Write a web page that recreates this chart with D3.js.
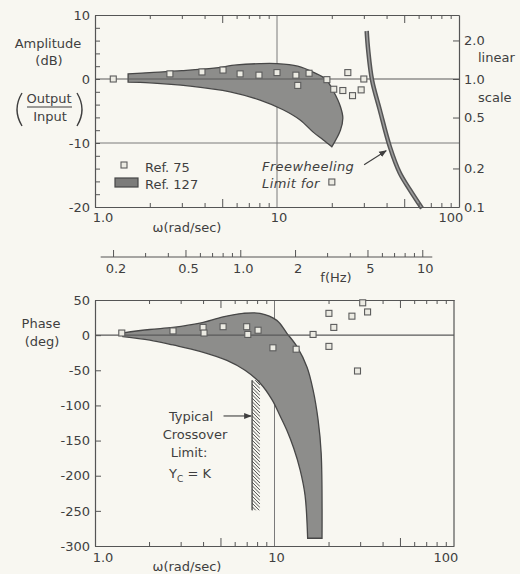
<!DOCTYPE html>
<html>
<head>
<meta charset="utf-8">
<script src="https://cdn.jsdelivr.net/npm/d3@7"></script>
<style>
body { margin: 0; background: #f8f7f1; }
svg { display: block; }
</style>
</head>
<body>
<div class="chart"></div>
<script>
var inkColor = '#3f3f3f',
	frameColor = '#555',
	gridColor = '#7a7a7a',
	bandFill = '#8d8d8b',
	bandStroke = '#474747',
	markerStroke = '#5c5c5c',
	markerFill = '#ecebe3';

// Amplitude plot: Ref. 127 band (omega rad/sec, dB)
var ampBandUpper = [[1.52, 0.8], [2.0, 1.0], [3.0, 1.3], [4.5, 1.7], [6.0, 2.2], [8.0, 2.4], [10, 2.4],
	[13, 2.0], [16, 1.0], [18.5, 0.0], [20.5, -2.0], [22.3, -4.3], [23, -6.1], [22.3, -8.0], [20, -10.6]];
var ampBandLower = [[1.52, -0.5], [2.0, -0.6], [3.33, -1.1], [5.52, -2.0], [8.07, -3.3], [10.8, -4.8],
	[13.4, -6.4], [15.8, -8.3], [17.9, -9.5], [20, -10.6]];
// Ref. 75 points
var ampRef75W = [1.26, 2.58, 3.87, 5.05, 6.27, 7.96, 10.0, 12.7, 13.0, 15.0, 18.8, 20.5, 23.0, 26.0, 29.0, 24.5, 30.0];
var ampRef75Db = [0.0, 0.8, 1.1, 1.4, 0.8, 0.6, 1.0, 0.6, -1.0, 0.9, -0.1, -1.6, -1.8, -2.6, -1.7, 1.0, 0.0];
// freewheeling limit
var freewheel = [[31.1, 7.5], [31.7, 4.5], [33.3, -0.2], [36.7, -4.8], [41.7, -10.6], [47.3, -14.7], [53.7, -17.3], [62.6, -20.2]];

// Phase plot: Ref. 127 band (omega, deg)
var phBandUpper = [[1.41, 3], [2.02, 8], [2.72, 11], [3.84, 17], [5.17, 26], [6.68, 31], [8.3, 31], [10.3, 21],
	[11.7, 3], [13.4, -17], [15.2, -46], [16.4, -78], [17.5, -121], [18.2, -168], [18.4, -289]];
var phBandLower = [[1.43, -2], [2.02, -7], [2.72, -14], [3.84, -23], [5.43, -36], [6.85, -50], [8.3, -68],
	[9.7, -92], [10.7, -114], [11.7, -135], [12.8, -161], [13.9, -192], [14.8, -228], [15.3, -289]];
var phRef75W = [1.41, 2.72, 4.0, 4.05, 5.17, 7.0, 7.1, 8.1, 9.8, 13.2, 16.4, 20.1, 21.4, 20.1, 27, 31, 33, 29];
var phRef75Deg = [3, 6, 11, 3, 12, 12, 1, 7, -18, -20, 1, 31, 11, -16, 27, 46, 33, -51];
var crossoverW = 7.5, crossoverDeg = [-64, -249];

// tick labels
var ampTicks = [-20, -10, 0, 10];
var linearTicks = [2.0, 1.0, 0.5, 0.2, 0.1];
var phTicks = [-300, -250, -200, -150, -100, -50, 0, 50];
var wLabels = ['1.0', '10', '100'];
var fTicks = [0.2, 0.3, 0.4, 0.5, 0.6, 0.7, 0.8, 0.9, 1, 2, 3, 4, 5, 6, 7, 8, 9, 10];
var fLabels = [[0.2, '0.2'], [0.5, '0.5'], [1, '1.0'], [2, '2'], [5, '5'], [10, '10']];

var xTop = d3.scaleLog().domain([1, 100]).range([95, 459]);
var yAmp = d3.scaleLinear().domain([-20, 10]).range([207, 15]);
var xBot = d3.scaleLog().domain([1, 100]).range([95, 454]);
var yPh = d3.scaleLinear().domain([-300, 50]).range([546, 300]);
var xF = d3.scaleLog().domain([1 / (2 * Math.PI), 100 / (2 * Math.PI)]).range([95, 459]);

var svg = d3.select('.chart').append('svg')
	.attr('width', 520)
	.attr('height', 574)
	.attr('font-family', "'DejaVu Sans', sans-serif")
	.attr('font-size', '13px')
	.attr('fill', inkColor);

function styleAxis(g) {
	g.attr('color', frameColor).attr('font-family', "'DejaVu Sans', sans-serif").attr('font-size', 13);
	g.selectAll('.tick text').attr('fill', inkColor);
	g.select('.domain').attr('stroke-width', 1.2);
}

function bigTick(d) {
	var m = Math.round(d / Math.pow(10, Math.floor(Math.log10(d) + 1e-9)));
	return m === 5;
}

function frameAxes(x, y, yDomain) {
	var top = y(yDomain[1]), bottom = y(yDomain[0]);
	var ticks = x.ticks().filter(function(d) { return d > 1 && d < 100 && d !== 10; });
	svg.append('g').attr('transform', 'translate(0,' + top + ')')
		.call(d3.axisTop(x).tickValues(ticks).tickSize(-4).tickSizeOuter(0).tickFormat(''))
		.call(styleAxis)
		.selectAll('.tick line').attr('y2', function(d) { return bigTick(d) ? 8 : 4; });
	svg.append('g').attr('transform', 'translate(0,' + bottom + ')')
		.call(d3.axisBottom(x).tickValues(ticks).tickSize(-4).tickSizeOuter(0).tickFormat(''))
		.call(styleAxis)
		.selectAll('.tick line').attr('y2', function(d) { return bigTick(d) ? -8 : -4; });
}

var line = d3.line().curve(d3.curveCatmullRom.alpha(0.5));

function bandPath(x, y, upper, lower) {
	var up = upper.map(function(d) { return [x(d[0]), y(d[1])]; });
	var low = lower.slice().reverse().map(function(d) { return [x(d[0]), y(d[1])]; });
	return line(up) + line(low).replace(/^M/, 'L') + 'Z';
}

function squares(x, y, ws, vs) {
	svg.append('g').selectAll('rect').data(ws).enter().append('rect')
		.attr('x', function(d) { return x(d) - 3; })
		.attr('y', function(d, i) { return y(vs[i]) - 3; })
		.attr('width', 6).attr('height', 6)
		.attr('fill', markerFill)
		.attr('stroke', markerStroke)
		.attr('stroke-width', 1.1);
}

// ---------- Amplitude plot ----------
svg.append('line')
	.attr('x1', xTop(10)).attr('x2', xTop(10)).attr('y1', yAmp(10)).attr('y2', yAmp(-20))
	.attr('stroke', gridColor).attr('stroke-width', 1);
svg.append('line')
	.attr('x1', xTop(1)).attr('x2', xTop(100)).attr('y1', yAmp(-10)).attr('y2', yAmp(-10))
	.attr('stroke', gridColor).attr('stroke-width', 1);

svg.append('path')
	.attr('d', bandPath(xTop, yAmp, ampBandUpper, ampBandLower))
	.attr('fill', bandFill).attr('stroke', bandStroke).attr('stroke-width', 1.3);

svg.append('line')
	.attr('x1', xTop(1)).attr('x2', xTop(100)).attr('y1', yAmp(0)).attr('y2', yAmp(0))
	.attr('stroke', '#5a5a5a').attr('stroke-width', 1.1);

svg.append('path').datum(freewheel.map(function(d) { return [xTop(d[0]), yAmp(d[1])]; }))
	.attr('d', line).attr('fill', 'none').attr('stroke', '#555').attr('stroke-width', 4.5);
svg.append('path').datum(freewheel.map(function(d) { return [xTop(d[0]), yAmp(d[1])]; }))
	.attr('d', line).attr('fill', 'none').attr('stroke', '#9a9a9a').attr('stroke-width', 1.6);

frameAxes(xTop, yAmp, [-20, 10]);
svg.append('g').attr('transform', 'translate(' + xTop(1) + ',0)')
	.call(d3.axisLeft(yAmp).tickValues(d3.range(-20, 11, 2)).tickSize(-5).tickSizeOuter(0).tickPadding(5)
		.tickFormat(function(d) { return ampTicks.indexOf(d) >= 0 ? d : ''; }))
	.call(styleAxis);
svg.append('g').attr('transform', 'translate(' + xTop(100) + ',0)')
	.call(d3.axisRight(yAmp).tickValues(linearTicks.map(function(v) { return 20 * Math.log10(v); }))
		.tickSize(-6).tickSizeOuter(0).tickPadding(5)
		.tickFormat(function(d) { return Math.pow(10, d / 20).toFixed(1); }))
	.call(styleAxis);

squares(xTop, yAmp, ampRef75W, ampRef75Db);

// axis titles, amplitude
svg.append('text').attr('x', 48).attr('y', 48).attr('text-anchor', 'middle').text('Amplitude');
svg.append('text').attr('x', 49).attr('y', 65).attr('text-anchor', 'middle').text('(dB)');
svg.append('text').attr('x', 49).attr('y', 103).attr('text-anchor', 'middle').text('Output');
svg.append('line').attr('x1', 27).attr('x2', 72).attr('y1', 107).attr('y2', 107)
	.attr('stroke', inkColor).attr('stroke-width', 1.2);
svg.append('text').attr('x', 50).attr('y', 121).attr('text-anchor', 'middle').text('Input');
svg.append('path').attr('d', 'M22,93 Q12,109.5 22,126').attr('fill', 'none')
	.attr('stroke', inkColor).attr('stroke-width', 1.4);
svg.append('path').attr('d', 'M77,93 Q87,109.5 77,126').attr('fill', 'none')
	.attr('stroke', inkColor).attr('stroke-width', 1.4);
svg.append('text').attr('x', 478).attr('y', 62).text('linear');
svg.append('text').attr('x', 478).attr('y', 102).text('scale');

wLabels.forEach(function(t, i) {
	var v = Math.pow(10, i), dx = i === 0 ? 8 : i === 2 ? -8 : 2;
	svg.append('text').attr('x', xTop(v) + dx).attr('y', 222).attr('text-anchor', 'middle').text(t);
	svg.append('text').attr('x', xBot(v) + dx).attr('y', 562).attr('text-anchor', 'middle').text(t);
});
svg.append('text').attr('x', 187).attr('y', 232).attr('text-anchor', 'middle').text('ω(rad/sec)');

// legend
svg.append('rect').attr('x', 121).attr('y', 162).attr('width', 6).attr('height', 6)
	.attr('fill', markerFill).attr('stroke', markerStroke).attr('stroke-width', 1.1);
svg.append('text').attr('x', 145).attr('y', 172).text('Ref. 75');
svg.append('rect').attr('x', 115).attr('y', 178).attr('width', 23).attr('height', 9)
	.attr('fill', '#7c7c7a').attr('stroke', bandStroke).attr('stroke-width', 1.2);
svg.append('text').attr('x', 145).attr('y', 189).text('Ref. 127');

// freewheeling annotation
var fw = svg.append('g').attr('font-style', 'italic').attr('letter-spacing', '0.4px');
fw.append('text').attr('x', 262).attr('y', 171).text('Freewheeling');
var limitFor = fw.append('text').attr('x', 262).attr('y', 188).text('Limit for');
var lfEnd = 262 + limitFor.node().getComputedTextLength();
svg.append('rect').attr('x', lfEnd + 9).attr('y', 179).attr('width', 6).attr('height', 6)
	.attr('fill', markerFill).attr('stroke', markerStroke).attr('stroke-width', 1.1);

var defs = svg.append('defs');
defs.append('marker').attr('id', 'arrow').attr('viewBox', '0 0 10 10')
	.attr('refX', 9).attr('refY', 5).attr('markerWidth', 7).attr('markerHeight', 7)
	.attr('orient', 'auto')
	.append('path').attr('d', 'M0,1 L10,5 L0,9 Z').attr('fill', inkColor);
svg.append('line')
	.attr('x1', xTop(30.1)).attr('y1', yAmp(-13.4)).attr('x2', xTop(39.8)).attr('y2', yAmp(-11.2))
	.attr('stroke', inkColor).attr('stroke-width', 1.1).attr('marker-end', 'url(#arrow)');

// ---------- frequency (Hz) axis ----------
var fAxisY = 257;
svg.append('g').attr('transform', 'translate(0,' + fAxisY + ')')
	.call(d3.axisTop(xF).tickValues(fTicks).tickSize(4).tickSizeOuter(0).tickFormat(''))
	.call(styleAxis)
	.call(function(g) {
		g.select('.domain').attr('d', 'M' + xF(0.171) + ',0H' + xF(11.35));
		g.selectAll('.tick line').attr('y2', function(d) {
			return [0.2, 0.5, 1, 2, 5, 10].indexOf(d) >= 0 ? -7 : -4;
		});
	});
fLabels.forEach(function(d) {
	svg.append('text').attr('x', xF(d[0]) + 3).attr('y', 273).attr('text-anchor', 'middle').text(d[1]);
});
svg.append('text').attr('x', 336).attr('y', 282).attr('text-anchor', 'middle').text('f(Hz)');

// ---------- Phase plot ----------
svg.append('line')
	.attr('x1', xBot(10)).attr('x2', xBot(10)).attr('y1', yPh(50)).attr('y2', yPh(-300))
	.attr('stroke', gridColor).attr('stroke-width', 1);

svg.append('path')
	.attr('d', bandPath(xBot, yPh, phBandUpper, phBandLower))
	.attr('fill', bandFill).attr('stroke', bandStroke).attr('stroke-width', 1.3);

svg.append('line')
	.attr('x1', xBot(1)).attr('x2', xBot(100)).attr('y1', yPh(0)).attr('y2', yPh(0))
	.attr('stroke', '#5a5a5a').attr('stroke-width', 1.1);

frameAxes(xBot, yPh, [-300, 50]);
svg.append('g').attr('transform', 'translate(' + xBot(1) + ',0)')
	.call(d3.axisLeft(yPh).tickValues(phTicks).tickSize(-6).tickSizeOuter(0).tickPadding(5))
	.call(styleAxis)
	.call(function(g) { g.selectAll('.tick text').text(function(d) { return String(d); }); });
svg.append('line')
	.attr('x1', xBot(100)).attr('x2', xBot(100)).attr('y1', yPh(50)).attr('y2', yPh(-300))
	.attr('stroke', frameColor).attr('stroke-width', 1.2);

squares(xBot, yPh, phRef75W, phRef75Deg);

svg.append('text').attr('x', 41).attr('y', 328).attr('text-anchor', 'middle').text('Phase');
svg.append('text').attr('x', 42).attr('y', 346).attr('text-anchor', 'middle').text('(deg)');
svg.append('text').attr('x', 187).attr('y', 571).attr('text-anchor', 'middle').text('ω(rad/sec)');

// crossover limit with hatching
var cx = xBot(crossoverW), cy1 = yPh(crossoverDeg[0]), cy2 = yPh(crossoverDeg[1]);
var hatch = svg.append('g');
hatch.append('line').attr('x1', cx).attr('x2', cx).attr('y1', cy1).attr('y2', cy2)
	.attr('stroke', inkColor).attr('stroke-width', 1.3);
hatch.append('clipPath').attr('id', 'hatchClip').append('rect')
	.attr('x', cx).attr('y', cy1).attr('width', 8).attr('height', cy2 - cy1);
hatch.append('g').attr('clip-path', 'url(#hatchClip)')
	.selectAll('line').data(d3.range(cy1 - 10, cy2 + 4, 3.5)).enter().append('line')
	.attr('x1', cx).attr('y1', function(d) { return d; })
	.attr('x2', cx + 8).attr('y2', function(d) { return d + 8; })
	.attr('stroke', inkColor).attr('stroke-width', 0.9);

var tc = svg.append('g').attr('text-anchor', 'middle');
tc.append('text').attr('x', 191).attr('y', 421).text('Typical');
tc.append('text').attr('x', 195).attr('y', 439).text('Crossover');
tc.append('text').attr('x', 189).attr('y', 457).text('Limit:');
var yc = tc.append('text').attr('x', 190).attr('y', 478);
yc.append('tspan').text('Y');
yc.append('tspan').attr('font-size', '9px').attr('dy', 4).text('C');
yc.append('tspan').attr('dy', -4).text(' = K');
svg.append('line')
	.attr('x1', xBot(5.2)).attr('x2', cx - 1).attr('y1', yPh(-115)).attr('y2', yPh(-115))
	.attr('stroke', inkColor).attr('stroke-width', 1.1).attr('marker-end', 'url(#arrow)');
</script>
</body>
</html>
